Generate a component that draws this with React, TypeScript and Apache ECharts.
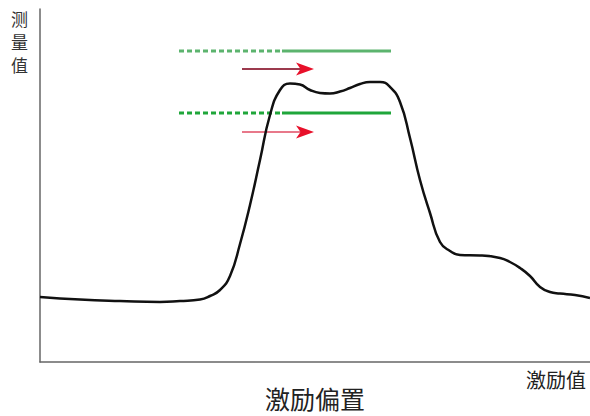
import React, { useEffect, useRef } from "react";
import * as echarts from "echarts";

// Curve samples: x = stimulus, y = measured value (plot units)
const curveX = [0, 40, 80, 120, 140, 160, 170, 180, 190, 200, 210, 220, 230, 240, 250, 260, 270, 280, 290, 300, 310, 320, 330, 340, 350, 360, 370, 380, 390, 400, 410, 420, 440, 460, 470, 480, 490, 500, 510, 520, 535, 550];
const curveY = [65, 62.5, 61, 60, 61, 62.5, 66, 72, 86, 118, 157, 202, 247, 272, 278.5, 277.5, 272, 269, 268.5, 270.5, 274, 278, 280, 280, 275, 260, 224, 182, 149, 120, 111, 107, 106.5, 104, 100, 94, 86, 75, 70, 68.5, 67, 64];

// Annotation guides (plot units)
const guideLevels = [311, 249];
const guideDashStart = 139;
const guideSplit = 242;
const guideEnd = 351;
const arrowLevels = [293, 230];
const arrowStart = 202;
const arrowEnd = 274;

const yName = "测量值";
const xName = "激励值";
const title = "激励偏置";

export default function App() {
  const ref = useRef<HTMLDivElement>(null);
  useEffect(() => {
    if (!ref.current) return;
    const chart = echarts.init(ref.current, undefined, { renderer: "svg" });
    const font = "'Noto Sans CJK SC', sans-serif";
    const greenColors = ["#5cb46e", "#1fa63a"];
    const shaftColors = ["#9c3a4e", "#e8788a"];
    const series: any[] = [
      {
        type: "line",
        data: curveX.map((x, i) => [x, curveY[i]]),
        smooth: 0.5,
        showSymbol: false,
        lineStyle: { color: "#111", width: 2.5 },
        z: 3,
      },
    ];
    guideLevels.forEach((lv, i) => {
      series.push({
        type: "line",
        data: [[guideDashStart, lv], [guideSplit, lv]],
        showSymbol: false,
        lineStyle: { color: greenColors[i], width: 3, type: [5, 3] },
        z: 2,
      });
      series.push({
        type: "line",
        data: [[guideSplit, lv], [guideEnd, lv]],
        showSymbol: false,
        lineStyle: { color: greenColors[i], width: 3 },
        z: 2,
      });
    });
    arrowLevels.forEach((lv, i) => {
      series.push({
        type: "line",
        data: [[arrowStart, lv], [arrowEnd - 8, lv]],
        showSymbol: false,
        lineStyle: { color: shaftColors[i], width: 2 },
        z: 2,
      });
    });
    series.push({
      type: "scatter",
      data: arrowLevels.map((lv) => [arrowEnd, lv]),
      symbol: "path://M0,0 L16,5 L0,10 L4,5 Z",
      symbolSize: [18, 13],
      symbolKeepAspect: false,
      symbolOffset: [-9, 0],
      itemStyle: { color: "#e8102a", opacity: 1 },
      z: 4,
    });
    chart.setOption({
      animation: false,
      grid: { left: 40, right: 0, top: 9, bottom: 54 },
      xAxis: {
        type: "value",
        min: 0,
        max: 550,
        axisLine: { show: true, lineStyle: { color: "#666", width: 1.5 } },
        axisTick: { show: false },
        axisLabel: { show: false },
        splitLine: { show: false },
      },
      yAxis: {
        type: "value",
        min: 0,
        max: 353,
        axisLine: { show: true, lineStyle: { color: "#666", width: 1.5 } },
        axisTick: { show: false },
        axisLabel: { show: false },
        splitLine: { show: false },
      },
      series,
      graphic: [
        ...yName.split("").map((ch, i) => ({
          type: "text",
          left: 11,
          top: 10 + i * 23,
          style: { text: ch, font: `17px ${font}`, fill: "#333", lineHeight: 17 },
        })),
        {
          type: "text",
          left: 526,
          top: 369,
          style: { text: xName, font: `20px ${font}`, fill: "#222", lineHeight: 20 },
        },
        {
          type: "text",
          left: 265,
          top: 385,
          style: { text: title, font: `25px ${font}`, fill: "#222", lineHeight: 25 },
        },
      ],
    });
    return () => chart.dispose();
  }, []);
  return <div ref={ref} style={{ width: 590, height: 416, position: "absolute", left: 0, top: 0 }} />;
}
